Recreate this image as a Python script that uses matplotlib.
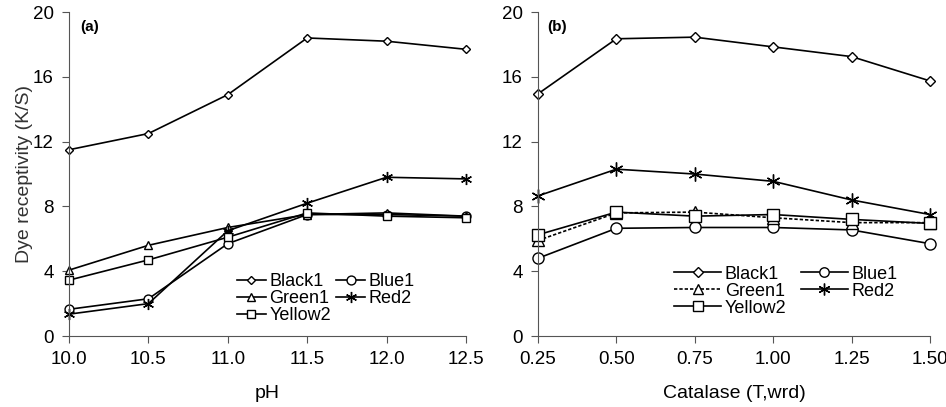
import matplotlib
matplotlib.use("Agg")
import matplotlib.pyplot as plt

plt.rcParams['font.family'] = ['Liberation Sans', 'DejaVu Sans']

# panel (a): pH
ph = [10.0, 10.5, 11.0, 11.5, 12.0, 12.5]
ph_black1 = [11.5, 12.5, 14.9, 18.4, 18.2, 17.7]
ph_blue1 = [1.65, 2.3, 5.7, 7.5, 7.5, 7.4]
ph_green1 = [4.07, 5.6, 6.7, 7.5, 7.6, 7.4]
ph_red2 = [1.35, 2.0, 6.5, 8.2, 9.8, 9.7]
ph_yellow2 = [3.45, 4.7, 6.1, 7.6, 7.4, 7.3]

# panel (b): catalase
cat = [0.25, 0.50, 0.75, 1.00, 1.25, 1.50]
cat_black1 = [14.95, 18.35, 18.45, 17.85, 17.25, 15.75]
cat_blue1 = [4.8, 6.65, 6.7, 6.7, 6.55, 5.7]
cat_green1 = [5.9, 7.6, 7.65, 7.3, 7.0, 7.0]
cat_red2 = [8.65, 10.3, 10.0, 9.55, 8.4, 7.5]
cat_yellow2 = [6.25, 7.65, 7.4, 7.5, 7.2, 6.95]

yticks = [0, 4, 8, 12, 16, 20]

fig = plt.figure(figsize=(9.46, 4.07), dpi=100)
ax1 = fig.add_axes([0.073, 0.1744, 0.4195, 0.796])
ax2 = fig.add_axes([0.5687, 0.1744, 0.4143, 0.796])


def draw(ax, x, black, blue, green, red, yellow, green_ls, small):
    s = 0.8 if small else 1.0
    kw = dict(color='black', lw=1.2, mfc='white', mec='black', mew=1.0, clip_on=False)
    h = {}
    h['Black1'], = ax.plot(x, black, marker='D', ms=5.5 * s, **kw)
    h['Blue1'], = ax.plot(x, blue, marker='o', ms=8 * s, **kw)
    h['Green1'], = ax.plot(x, green, marker='^', ms=8 * s, ls=green_ls, **kw)
    h['Red2'], = ax.plot(x, red, marker=(6, 2, 0), ms=10 * s, **kw)
    h['Yellow2'], = ax.plot(x, yellow, marker='s', ms=8 * s, **kw)
    ax.set_xlim(x[0], x[-1])
    ax.set_ylim(0, 20)
    ax.set_yticks(yticks)
    ax.set_xticks(x)
    for sp in ['top', 'right']:
        ax.spines[sp].set_visible(False)
    for sp in ['left', 'bottom']:
        ax.spines[sp].set_color('#555555')
    ax.tick_params(direction='out', length=5, color='#555555', labelsize=13.5, pad=6)
    return h


h1 = draw(ax1, ph, ph_black1, ph_blue1, ph_green1, ph_red2, ph_yellow2, '-', True)
h2 = draw(ax2, cat, cat_black1, cat_blue1, cat_green1, cat_red2, cat_yellow2, (0, (2, 1.2)), False)

ax1.set_xticklabels(['%.1f' % v for v in ph])
ax2.set_xticklabels(['%.2f' % v for v in cat])

order = ['Black1', 'Green1', 'Yellow2', 'Blue1', 'Red2']
ax1.legend([h1[k] for k in order], order, ncol=2, frameon=False, fontsize=13,
           loc='upper left', bbox_to_anchor=(0.4, 0.222), handlelength=1.6,
           handletextpad=0.2, columnspacing=0.3, labelspacing=0.0, borderpad=0)
ax2.legend([h2[k] for k in order], order, ncol=2, frameon=False, fontsize=13,
           loc='upper left', bbox_to_anchor=(0.325, 0.245), handlelength=2.6,
           handletextpad=0.2, columnspacing=0.8, labelspacing=0.0, borderpad=0,
           markerscale=0.85)

ax1.text(0.027, 0.955, '(a)', transform=ax1.transAxes, fontsize=11, fontweight='bold', va='center')
ax2.text(0.024, 0.955, '(b)', transform=ax2.transAxes, fontsize=11, fontweight='bold', va='center')

ax1.set_xlabel('pH', fontsize=14, labelpad=12)
ax1.set_ylabel('Dye receptivity (K/S)', fontsize=14, color='#333333', labelpad=0)
ax2.set_xlabel('Catalase (T,wrd)', fontsize=14, labelpad=12)

fig.savefig('out.png', dpi=100)
